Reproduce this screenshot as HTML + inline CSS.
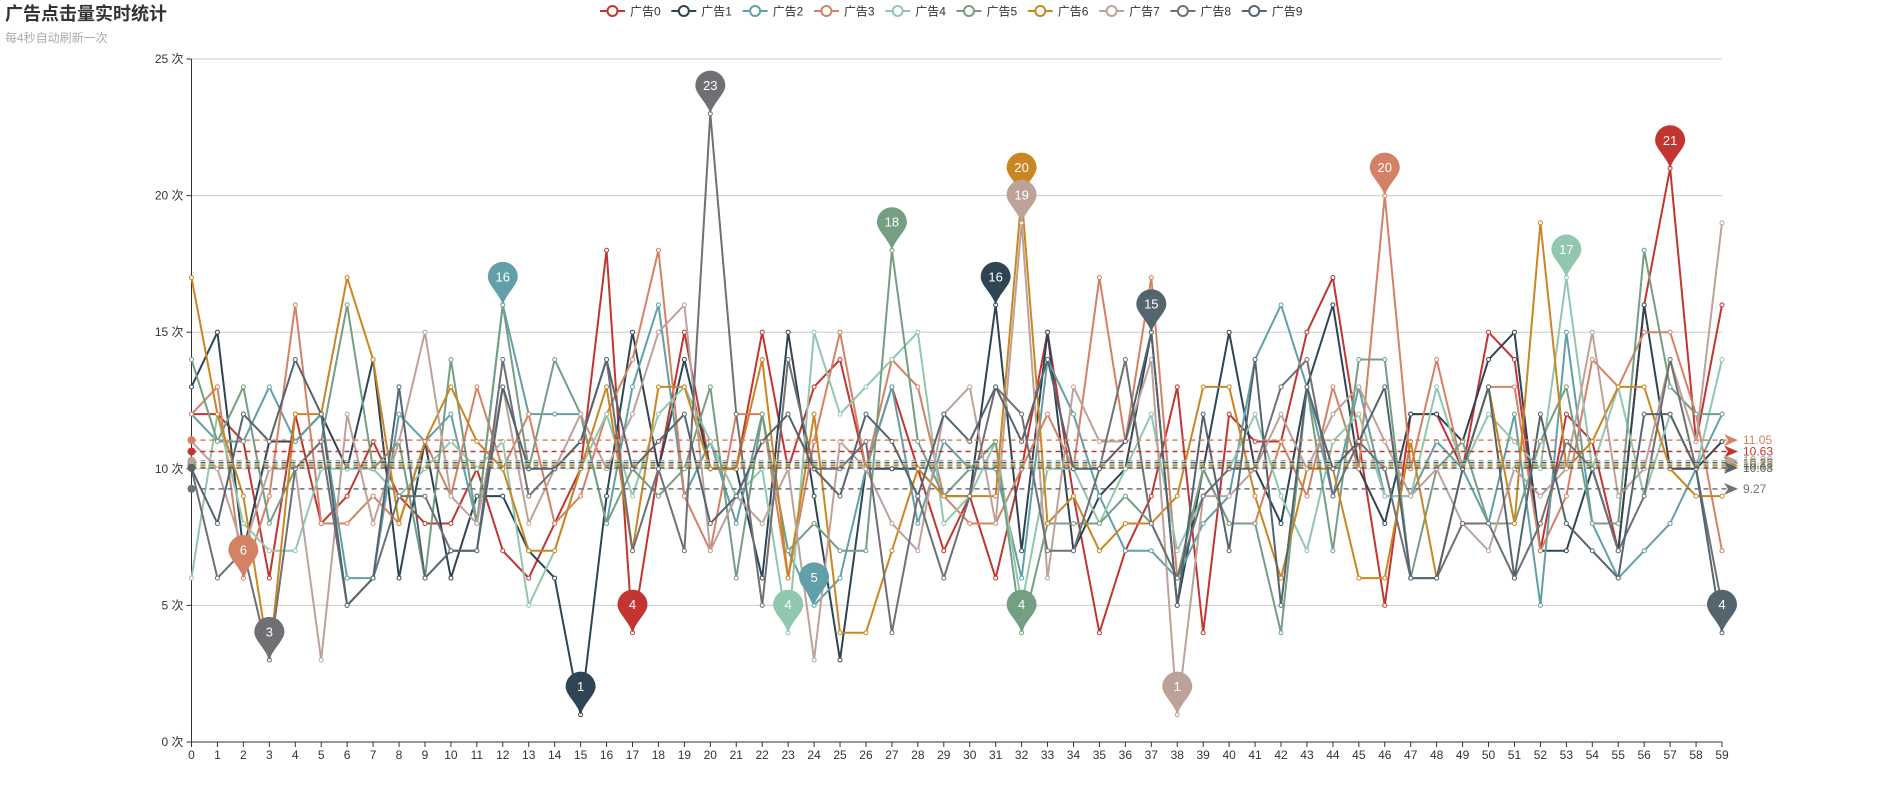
<!DOCTYPE html>
<html><head><meta charset="utf-8">
<style>
html,body{margin:0;padding:0;background:#fff;}
body{width:1904px;height:800px;overflow:hidden;font-family:"Liberation Sans","Noto Sans CJK SC",sans-serif;}
svg{display:block}
</style></head>
<body>
<svg id="chart" width="1904" height="800" xmlns="http://www.w3.org/2000/svg"></svg>
<script>
const seriesNames=["广告0","广告1","广告2","广告3","广告4","广告5","广告6","广告7","广告8","广告9"];
const colors=["#c23531","#2f4554","#61a0a8","#d48265","#91c7ae","#749f83","#ca8622","#bda29a","#6e7074","#546570"];
const yTicks=[0,5,10,15,20,25];
const s0=[12,12,11,6,12,8,9,11,9,8,8,10,7,6,8,10,18,4,10,15,10,10,15,10,13,14,10,13,10,7,9,6,10,15,9,4,7,9,13,4,12,11,11,15,17,11,5,12,12,10,15,14,7,12,11,7,16,21,11,16];
const s1=[13,15,7,11,11,12,10,14,6,11,6,9,9,7,6,1,9,15,10,14,10,10,6,15,9,3,10,10,10,9,9,16,7,15,7,9,10,15,5,10,15,10,8,13,16,10,8,12,12,11,14,15,7,7,10,7,16,10,10,11];
const s2=[12,11,11,13,11,12,6,6,12,11,12,8,16,12,12,12,8,13,16,9,11,8,12,7,5,6,10,13,8,11,10,10,6,14,12,9,7,7,6,8,9,14,16,13,9,13,9,9,11,10,8,12,5,15,8,6,7,8,10,12];
const s3=[12,13,6,9,16,8,8,9,8,11,9,13,10,12,8,9,12,14,18,9,7,12,12,6,11,15,10,14,13,9,8,8,10,12,10,17,11,17,6,10,8,8,11,9,13,10,20,10,14,10,13,13,7,9,14,13,15,15,12,7];
const s4=[6,12,8,7,7,10,10,10,9,10,11,10,11,5,7,10,12,9,12,13,11,9,10,4,15,12,13,14,15,8,9,11,5,10,10,8,10,12,7,9,10,12,9,7,11,12,9,9,13,10,12,11,10,17,10,13,9,12,10,14];
const s5=[14,11,13,8,10,11,16,10,11,6,14,8,16,10,14,12,8,10,9,10,13,6,12,7,8,7,7,18,11,9,10,11,4,8,8,8,9,8,6,10,8,8,4,13,7,14,14,6,10,11,8,8,11,13,8,8,18,13,12,12];
const s6=[17,12,9,3,12,12,17,14,8,11,13,11,10,7,7,10,13,7,13,13,10,10,14,6,12,4,4,7,10,9,9,9,20,8,9,7,8,8,9,13,13,9,6,10,10,6,6,11,6,10,13,8,19,10,11,13,13,10,9,9];
const s7=[11,10,7,10,10,3,12,8,11,15,9,8,13,8,10,12,10,12,15,16,7,9,8,10,3,11,10,8,7,12,13,8,19,6,13,11,11,14,1,9,9,10,12,10,12,13,11,9,10,8,7,10,9,10,15,9,10,14,11,19];
const s8=[10,6,7,3,10,11,5,6,9,9,7,7,14,9,10,11,14,7,10,7,23,12,5,14,10,10,11,4,9,6,9,13,12,7,7,10,14,8,6,9,10,10,13,14,9,11,10,6,6,8,8,6,8,11,10,7,9,14,10,5];
const s9=[10,8,12,11,14,12,5,6,13,6,7,7,13,10,10,11,14,10,11,12,8,9,11,12,10,9,12,11,9,12,11,13,11,14,10,10,11,15,5,12,7,14,5,13,10,11,13,6,6,10,13,6,12,8,7,6,12,12,10,4];
const allSeries=[s0,s1,s2,s3,s4,s5,s6,s7,s8,s9];
const categories=s0.map((_,i)=>String(i));

const svg=document.getElementById('chart');
const NS="http://www.w3.org/2000/svg";
const X0=191.5,X1=1722,Y0=742,YTOP=59,YMAX=25;
function xS(i){return X0+(X1-X0)*i/(categories.length-1);}
function yS(v){return Y0-(Y0-YTOP)*v/YMAX;}
function mk(tag,attrs,parent){const e=document.createElementNS(NS,tag);for(const k in attrs)e.setAttribute(k,attrs[k]);(parent||svg).appendChild(e);return e;}

let t=mk('text',{x:5,y:20,'font-size':18,'font-weight':'bold',fill:'#333'});t.textContent='广告点击量实时统计';


t=mk('text',{x:5,y:42,'font-size':12,fill:'#aaa'});t.textContent='每4秒自动刷新一次';



seriesNames.forEach((n,i)=>{
  const g=mk('g',{transform:`translate(${600+i*71.3},11)`,cursor:'pointer'});
  
  
  mk('line',{x1:0,y1:0,x2:25,y2:0,stroke:colors[i],'stroke-width':2},g);
  mk('circle',{cx:12.5,cy:0,r:5,fill:'#fff',stroke:colors[i],'stroke-width':2},g);
  const tx=mk('text',{x:30,y:4.5,'font-size':12,fill:'#333'},g);tx.textContent=n;
});

const yAxis=mk('g',{});


yTicks.forEach(v=>{
  const y=yS(v);
  if(v>0)mk('line',{x1:X0,y1:y,x2:X1,y2:y,stroke:'#ccc','stroke-width':1},yAxis);
  mk('line',{x1:X0-5,y1:y,x2:X0,y2:y,stroke:'#333'},yAxis);
  const l=mk('text',{x:X0-8,y:y+4,'font-size':12,fill:'#333','text-anchor':'end'},yAxis);l.textContent=v+' 次';
});
mk('line',{x1:X0,y1:YTOP,x2:X0,y2:Y0,stroke:'#333'},yAxis);
const xAxis=mk('g',{});


mk('line',{x1:X0,y1:Y0,x2:X1,y2:Y0,stroke:'#333'},xAxis);
categories.forEach((c,i)=>{
  const x=xS(i);
  mk('line',{x1:x,y1:Y0,x2:x,y2:Y0+5,stroke:'#333'},xAxis);
  const l=mk('text',{x:x,y:Y0+17,'font-size':12,fill:'#333','text-anchor':'middle'},xAxis);l.textContent=c;
});

allSeries.forEach((d,si)=>{
  const g=mk('g',{});
  
  
  mk('polyline',{points:d.map((v,i)=>xS(i)+','+yS(v)).join(' '),fill:'none',stroke:colors[si],'stroke-width':2,'stroke-linejoin':'round'},g);
  d.forEach((v,i)=>mk('circle',{cx:xS(i),cy:yS(v),r:2,fill:'#fff',stroke:colors[si],'stroke-width':1},g));
});

allSeries.forEach((d,si)=>{
  const avg=d.reduce((a,b)=>a+b,0)/d.length;
  const y=yS(avg);
  const g=mk('g',{});
  
  
  mk('line',{x1:X0,y1:y,x2:X1+8,y2:y,stroke:colors[si],'stroke-width':1.5,'stroke-dasharray':'5,4'},g);
  mk('circle',{cx:X0,cy:y,r:4,fill:colors[si]},g);
  mk('path',{d:`M${X1+16},${y} L${X1+2},${y-6} L${X1+6},${y} L${X1+2},${y+6}Z`,fill:colors[si]},g);
  const l=mk('text',{x:X1+21,y:y+4,'font-size':12,fill:colors[si]},g);l.textContent=avg.toFixed(2);
});

function pin(x,y,val,col,name){
  const g=mk('g',{});
  
  
  const r=15,cy=y-28;
  mk('path',{d:`M${x},${y} C${x-4},${cy+16} ${x-r},${cy+8} ${x-r},${cy} A${r},${r} 0 1 1 ${x+r},${cy} C${x+r},${cy+8} ${x+4},${cy+16} ${x},${y}Z`,fill:col},g);
  const l=mk('text',{x:x,y:cy+4.5,'font-size':13,fill:'#fff','text-anchor':'middle'},g);l.textContent=val;
}
allSeries.forEach((d,si)=>{
  const mx=Math.max(...d),mn=Math.min(...d);
  const imx=d.indexOf(mx),imn=d.indexOf(mn);
  pin(xS(imx),yS(mx),mx,colors[si],'max-pin-'+si);
  pin(xS(imn),yS(mn),mn,colors[si],'min-pin-'+si);
});
</script>
</body></html>
